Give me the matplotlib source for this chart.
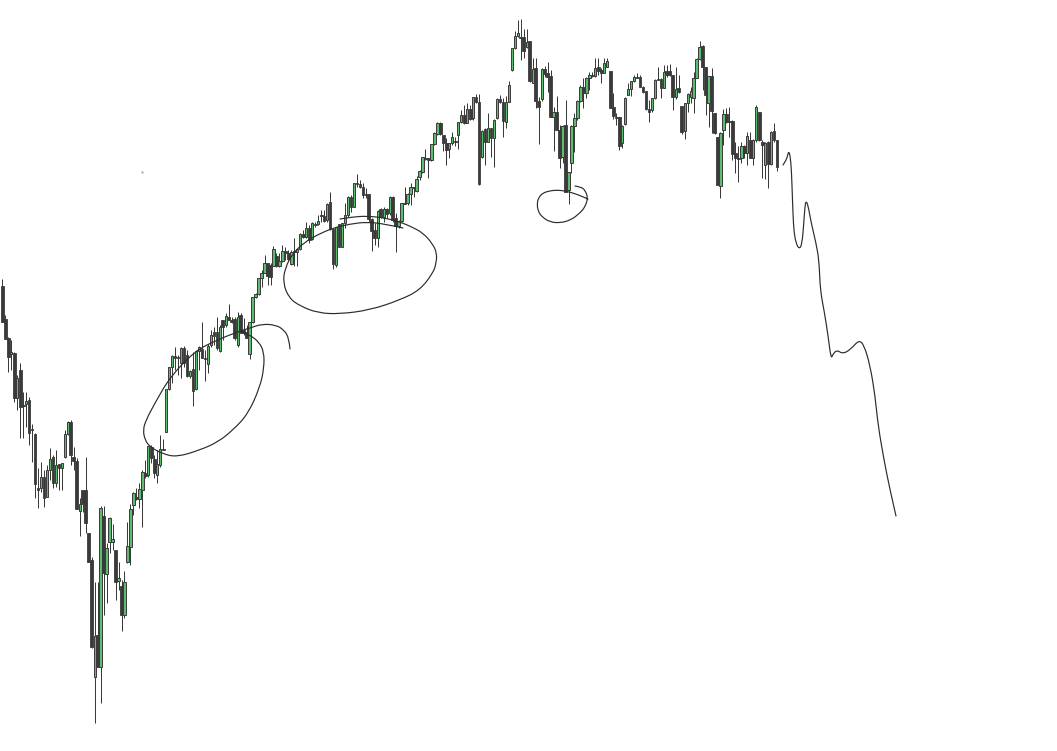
import matplotlib
matplotlib.use("Agg")
import matplotlib.pyplot as plt
from matplotlib.path import Path
from matplotlib.patches import PathPatch
import numpy as np

# Candles: values on the chart's vertical scale (larger = lower on the chart)
body_top = [
 286,319,338,352,353,378,370,405,401,400, 429,434,488,477,477,470,459,457,465,464,
 463,434,422,422,457,461,504,490,490,533, 560,636,635,508,516,548,518,539,550,578,
 586,582,546,509,493,497,489,472,473,446, 447,459,464,449,449,389,367,356,356,357,
 348,348,355,371,369,351,347,349,358,346, 335,332,332,327,320,316,317,320,319,317,
 315,330,332,322,297,294,278,273,263,263, 265,249,256,261,251,251,253,252,251,249,
 234,234,228,228,223,224,221,215,216,204, 202,229,227,224,223,215,197,197,183,183,
 184,187,194,194,219,230,211,209,209,209, 197,197,218,221,203,203,194,187,187,179,
 171,157,158,158,144,133,123,123,135,143, 143,137,141,122,115,115,109,109,97,97,
 102,131,129,128,128,120,99,99,102,102, 85,48,36,33,37,37,42,41,69,68,
 101,69,69,73,76,112,112,130,126,125, 172,126,118,101,87,87,78,75,75,68,
 67,70,63,61,71,107,117,117,126,98, 89,81,77,77,77,87,91,109,98,80,
 79,79,72,71,71,75,89,88,106,103, 94,91,78,59,47,46,67,76,76,113,
 137,133,114,114,121,121,153,158,146,146, 136,140,140,107,112,142,143,142,132,131,140]
body_bottom = [
 322,339,357,354,398,398,407,406,404,433, 430,484,490,488,498,497,470,483,483,468,
 468,457,434,455,461,509,511,504,523,562, 647,677,667,667,573,574,542,542,582,581,
 615,615,562,547,505,499,499,490,476,475, 458,473,475,465,450,432,389,367,358,358,
 363,363,376,376,391,389,351,358,359,364, 345,336,348,351,327,325,320,322,338,345,
 333,333,338,354,322,297,294,278,273,276, 277,266,266,266,261,253,259,264,252,252,
 249,237,237,240,239,225,224,216,221,220, 229,264,265,247,247,223,215,207,207,184,
 187,195,195,219,231,238,238,217,217,214, 213,220,226,226,221,204,203,194,188,191,
 177,172,159,160,160,144,134,134,143,150, 149,143,142,135,122,123,123,119,118,102,
 184,157,142,142,138,138,118,102,121,122, 102,70,48,36,38,51,47,81,83,101,
 107,99,74,77,117,117,130,158,157,192, 190,163,126,118,101,93,93,78,76,76,
 71,73,73,67,108,116,118,146,143,124, 95,89,81,78,87,92,109,112,110,98,
 80,88,88,75,75,97,97,92,132,131, 103,97,98,78,59,67,95,103,111,133,
 185,186,130,122,122,154,158,159,158,153, 153,158,158,140,140,145,165,164,164,140,167]
wick_high = [
 279,315,337,340,352,375,363,392,392,397, 424,433,468,462,470,465,448,455,450,464,
 463,430,421,420,447,458,498,490,457,533, 557,582,582,506,506,543,517,524,550,562,
 580,571,522,504,492,488,483,470,460,446, 445,455,450,435,439,389,367,355,347,355,
 347,346,350,370,352,350,346,322,350,344, 330,327,317,325,320,313,304,317,317,312,
 313,318,325,322,297,293,278,270,255,263, 263,246,253,253,245,247,250,250,238,249,
 233,230,222,225,222,222,215,210,210,203, 192,229,227,224,223,203,196,195,183,174,
 180,183,188,194,218,223,210,208,207,208, 196,196,213,220,203,187,193,183,187,176,
 170,157,149,158,144,132,122,122,135,138, 143,132,137,122,110,105,103,105,97,94,
 94,130,128,113,128,119,98,95,98,96, 81,48,31,20,19,29,29,41,58,58,
 97,68,66,62,70,107,96,125,125,100, 172,125,113,100,85,78,77,72,72,58,
 58,68,58,58,71,93,113,117,125,97, 83,81,75,73,75,86,91,100,98,79,
 67,78,65,65,64,75,67,75,106,103, 93,87,72,58,41,45,67,76,68,113,
 137,132,109,108,107,120,142,146,142,145, 132,132,139,105,112,140,142,141,131,123,140]
wick_low = [
 322,339,372,370,402,410,438,438,427,445, 462,498,508,492,507,497,480,488,487,490,
 490,458,435,465,470,509,536,512,533,562, 648,723,667,703,615,603,553,550,600,590,
 631,618,563,565,515,500,508,527,478,477, 463,478,483,467,450,432,390,383,370,375,
 378,367,377,378,406,390,370,358,381,373, 347,345,350,352,340,327,320,323,340,347,
 333,335,338,359,323,298,295,287,273,285, 285,266,267,267,262,260,260,265,266,266,
 250,238,238,243,240,227,225,222,222,222, 230,269,267,247,247,228,217,212,207,187,
 188,198,198,222,251,245,247,218,222,218, 215,222,252,228,222,204,205,205,197,192,
 180,173,160,178,161,145,135,135,151,165, 158,145,146,149,123,124,123,120,120,103,
 185,158,165,142,157,167,119,103,137,128, 102,71,49,37,60,58,48,82,83,108,
 144,101,77,92,117,151,130,168,163,192, 204,173,152,120,102,108,98,90,77,77,
 75,83,73,67,108,119,125,150,148,125, 95,96,82,78,87,93,110,122,112,99,
 80,98,88,77,76,110,99,93,134,139, 112,103,113,78,60,90,115,127,133,134,
 185,198,145,123,137,160,173,182,163,158, 165,158,165,142,141,178,179,188,165,142,171]
directions = (
 "dddgdgddgd" "dddgdggdgd" "gggdddgddd" "dgdgdgggdg" "dggggdggdg"
 "ddggdgggdd" "gddgdggddg" "gddgdgdddg" "dddggggggd" "dgdggddgdg"
 "gdgdgdgddg" "ddgdgggdgd" "ddddddgdgd" "gddggdggdg" "ggddgggddd"
 "ggdggdgdgd" "dgdgdggddg" "ggggddgdgd" "dgdddgddgd" "gggggdggdg"
 "ddggddddgg" "ggggddddgg" "ddgdddgddg" "gggggddgdd" "dggdddddgd"
 "gdggddgdgdd")

hand_circle_left_x = [290,289,284,276,262,250,240,217,195,170,155,146,143,145,150,163,177,200,218,233,248,260,264,264,259,250,240]
hand_circle_left_y = [349,338,330,325,324,328,331,340,351,377,403,420,430,440,447,454,457,450,442,430,414,387,368,352,342,335,331]
hand_circle_mid_x = [340,352,367,385,400,412,423,432,437,436,433,420,400,370,340,318,300,289,283,285,293,305,317,333,350,367,385,403]
hand_circle_mid_y = [219,217,216,218,222,227,233,243,253,264,273,290,300,310,314,313,306,298,283,268,253,242,235,228,224,222,224,228]
hand_circle_low_x = [575,581,585,588,585,580,571,560,550,542,538,537,539,543,549,557,565,573,581,588]
hand_circle_low_y = [186,187,190,198,207,213,220,223,222,217,211,203,197,193,191,190,191,193,196,199]
hand_tail_x = [783,785,787,789,791,792,793,794,796,799,802,804,805,806,808,811,816,819,820,822,824,828,831,833,837,843,851,859,864,870,875,878,884,890,896]
hand_tail_y = [165,162,158,150,162,185,215,232,243,249,245,220,206,201,205,222,243,260,285,300,310,335,359,354,350,354,349,340,345,365,395,425,460,490,516]
stray_dot_x = [142]
stray_dot_y = [172]

DARK = "#3a3a3a"
GREEN = "#5cbd6e"
DRAW = "#2b2b2b"

fig = plt.figure(figsize=(10.57, 7.51), dpi=100, facecolor="white")
ax = fig.add_axes([0, 0, 1, 1])
ax.set_xlim(-2.3 / 2.98, (1057 - 2.3) / 2.98)
ax.set_ylim(751, 0)
ax.axis("off")

n = len(body_top)
idx = np.arange(n)
top = np.array(body_top, float)
bot = np.array(body_bottom, float)
high = np.minimum(np.array(wick_high, float), top)
low = np.maximum(np.array(wick_low, float), bot)
is_up = np.array([c == "g" for c in directions])
height = np.maximum(bot - top, 0.6)

ax.vlines(idx, high, low, color=DARK, linewidth=0.72, zorder=2)
ax.bar(idx[~is_up], height[~is_up], bottom=top[~is_up], width=0.9, color=DARK,
       edgecolor=DARK, linewidth=0.6, zorder=3)
ax.bar(idx[is_up], height[is_up], bottom=top[is_up], width=0.78, color=GREEN,
       edgecolor=DARK, linewidth=0.7, zorder=4)

over = fig.add_axes([0, 0, 1, 1], facecolor="none")
over.set_xlim(0, 1057)
over.set_ylim(751, 0)
over.axis("off")

def smooth_path(xs, ys):
    pts = np.column_stack([xs, ys]).astype(float)
    verts = [pts[0]]
    codes = [Path.MOVETO]
    for i in range(1, len(pts) - 1):
        end = pts[i + 1] if i == len(pts) - 2 else (pts[i] + pts[i + 1]) / 2
        verts += [pts[i], end]
        codes += [Path.CURVE3, Path.CURVE3]
    return Path(verts, codes)

for xs, ys in [(hand_circle_left_x, hand_circle_left_y),
               (hand_circle_mid_x, hand_circle_mid_y),
               (hand_circle_low_x, hand_circle_low_y),
               (hand_tail_x, hand_tail_y)]:
    over.add_patch(PathPatch(smooth_path(xs, ys), facecolor="none", edgecolor=DRAW,
                             linewidth=0.85, capstyle="round", joinstyle="round"))
over.plot(stray_dot_x, stray_dot_y, ".", color="#777777", markersize=0.8)

fig.savefig("out.png", dpi=100, facecolor="white")
